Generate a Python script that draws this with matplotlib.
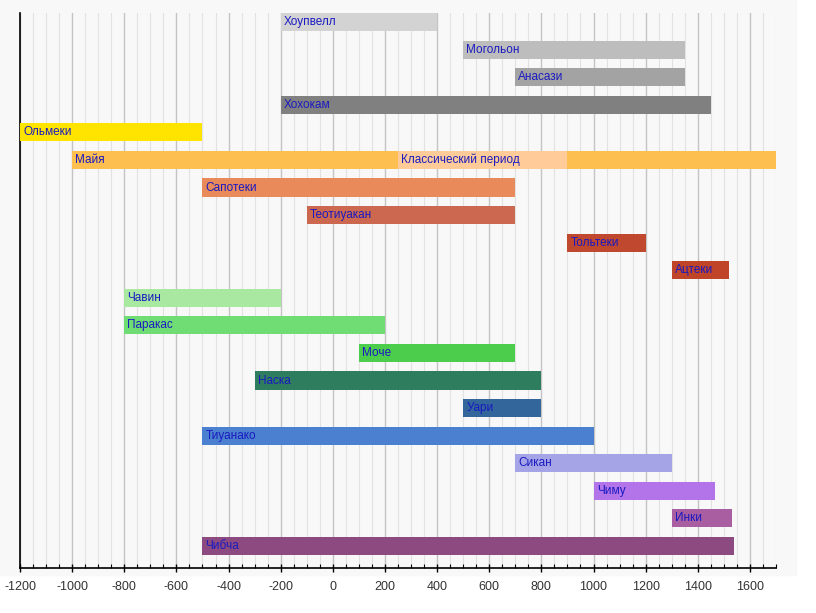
import matplotlib
matplotlib.use("Agg")
import matplotlib.pyplot as plt
from matplotlib.patches import Rectangle
from matplotlib.ticker import MultipleLocator

# === Données ===
cultures = ["Хоупвелл", "Могольон", "Анасази", "Хохокам", "Ольмеки", "Майя",
            "Сапотеки", "Теотиуакан", "Тольтеки", "Ацтеки", "Чавин", "Паракас",
            "Моче", "Наска", "Уари", "Тиуанако", "Сикан", "Чиму", "Инки", "Чибча"]
starts = [-200, 500, 700, -200, -1200, -1000, -500, -100, 900, 1300, -800, -800,
          100, -300, 500, -500, 700, 1000, 1300, -500]
ends = [400, 1350, 1350, 1450, -500, 1700, 700, 700, 1200, 1521, -200, 200,
        700, 800, 800, 1000, 1300, 1465, 1533, 1538]
colors = ["#d3d3d3", "#bdbdbd", "#a3a3a3", "#808080", "#ffe400", "#fdbf4f",
          "#e88a5a", "#cc6850", "#c0482e", "#c04428", "#a8e8a0", "#70dd74",
          "#4ccd4c", "#2e7d5e", "#33669a", "#4a80cf", "#a4a4e6", "#b274e8",
          "#a95ea2", "#8c4a80"]

classic_label = "Классический период"
classic_start, classic_end = 250, 900
classic_color = "#ffcc99"

plt.rcParams["axes.unicode_minus"] = False
plt.rcParams["font.family"] = ["Liberation Sans", "DejaVu Sans"]
label_color = "#1a1ac0"

fig = plt.figure(figsize=(8.16, 6.13), dpi=100, facecolor="white")
# fond gris clair de la capture
fig.patches.append(Rectangle((0, 1 - 575 / 613), 796 / 816, 575 / 613,
                             transform=fig.transFigure, color="#f8f8f8", zorder=-10))
ax = fig.add_axes([20 / 816, 1 - 568 / 613, 756 / 816, 555 / 613])
ax.set_facecolor("#f8f8f8")

rows = list(range(len(cultures)))
ax.barh(rows, [e - s for s, e in zip(starts, ends)], left=starts, height=0.66,
        color=colors, zorder=3)

# période classique des Mayas
maya = cultures.index("Майя")
ax.barh(maya, classic_end - classic_start, left=classic_start, height=0.66,
        color=classic_color, zorder=4)
ax.text(classic_start + 12, maya, classic_label, va="center", ha="left",
        fontsize=8.5, color=label_color, zorder=5)

for r, name, s in zip(rows, cultures, starts):
    ax.text(s + 12, r, name, va="center", ha="left", fontsize=8.5,
            color=label_color, zorder=5)

ax.set_xlim(-1200, 1700)
ax.set_ylim(len(cultures) - 0.2, -0.33)
ax.xaxis.set_major_locator(MultipleLocator(200))
ax.xaxis.set_minor_locator(MultipleLocator(50))
ax.grid(True, which="major", axis="x", color="#c4c4c4", linewidth=1.0, zorder=0)
ax.grid(True, which="minor", axis="x", color="#e2e2e2", linewidth=0.8, zorder=0)
ax.set_yticks([])
ax.tick_params(axis="x", which="major", direction="inout", length=6, width=1,
               labelsize=9, labelcolor="#333333", pad=6)
ax.tick_params(axis="x", which="minor", direction="in", length=3, width=0.8)
for side in ["top", "right"]:
    ax.spines[side].set_visible(False)
ax.spines["left"].set_linewidth(1.2)
ax.spines["bottom"].set_linewidth(1.2)
ax.set_axisbelow(True)

fig.savefig("out.png", dpi=100, facecolor=fig.get_facecolor())
